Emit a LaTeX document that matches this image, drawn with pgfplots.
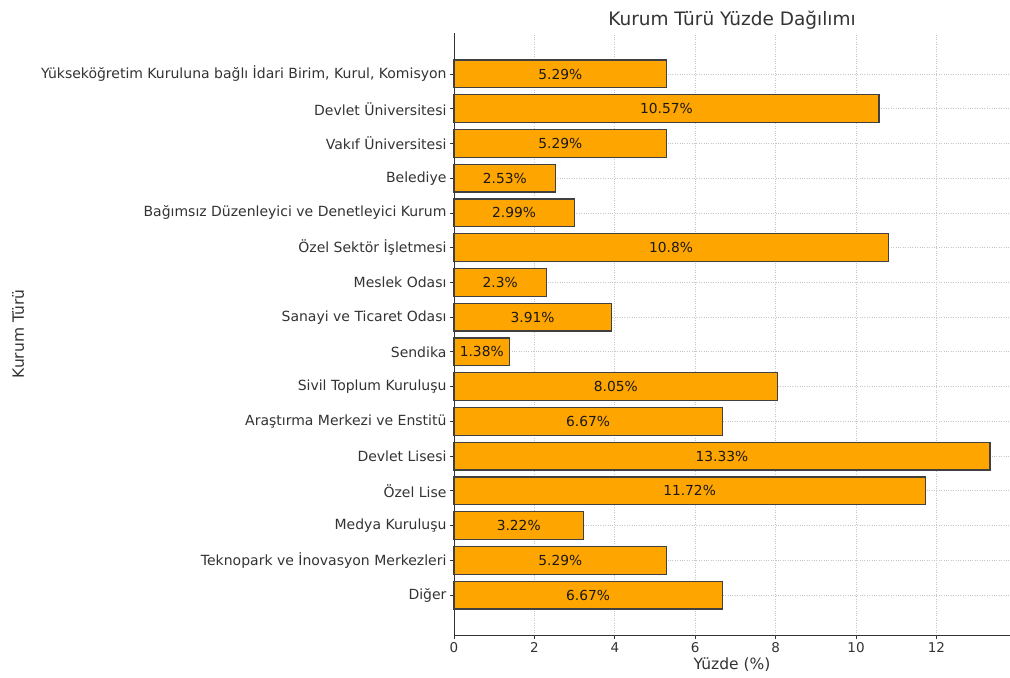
\documentclass[border=0pt]{standalone}
\usepackage{pgfplots}
\pgfplotsset{compat=1.18}
\usepackage{pgfplotstable}
\usepackage{fontspec}
\setmainfont{DejaVu Sans}
\definecolor{barorange}{HTML}{FFA500}
\definecolor{txt}{HTML}{333333}

\pgfplotstableread{
y v
15 5.29
14 10.57
13 5.29
12 2.53
11 2.99
10 10.8
9 2.3
8 3.91
7 1.38
6 8.05
5 6.67
4 13.33
3 11.72
2 3.22
1 5.29
0 6.67
}\datatable

\begin{document}
\begin{tikzpicture}
\begin{axis}[
  name=ax,
  scale only axis,
  width=556pt, height=602pt,
  xmin=0, xmax=13.83,
  ymin=-1.15, ymax=16.18,
  axis lines*=left,
  axis line style={black!80, line width=0.9pt},
  tick align=outside,
  major tick length=4pt,
  tick style={black!80, line width=0.8pt},
  xtick={0,2,4,6,8,10,12},
  ytick={0,...,15},
  yticklabels={Diğer, Teknopark ve İnovasyon Merkezleri, Medya Kuruluşu, Özel Lise, Devlet Lisesi, Araştırma Merkezi ve Enstitü, Sivil Toplum Kuruluşu, Sendika, Sanayi ve Ticaret Odası, Meslek Odası, Özel Sektör İşletmesi, Bağımsız Düzenleyici ve Denetleyici Kurum, Belediye, Vakıf Üniversitesi, Devlet Üniversitesi, {Yükseköğretim Kuruluna bağlı İdari Birim, Kurul, Komisyon}},
  yticklabel style={font=\fontsize{14}{16}\selectfont, text=txt},
  xticklabel style={font=\fontsize{13.5}{15}\selectfont, text=txt},
  /pgf/number format/assume math mode=true,
  grid=major,
  major grid style={dotted, black!22, line width=0.8pt},
  title={Kurum Türü Yüzde Dağılımı},
  title style={font=\fontsize{18.5}{20}\selectfont, text=txt, yshift=-6pt},
  xlabel={Yüzde (\%)},
  ylabel={Kurum Türü},
  xlabel style={font=\fontsize{15.5}{17}\selectfont, text=txt, yshift=2pt},
  ylabel style={font=\fontsize{15.5}{17}\selectfont, text=txt, yshift=10pt},
  clip=false,
]
\addplot[xbar, bar width=27.8pt, fill=barorange, draw=black!75, line width=1.2pt]
  table[x=v, y=y] {\datatable};
\addplot[only marks, mark=none,
  point meta=explicit symbolic,
  nodes near coords={\pgfplotspointmeta\%},
  nodes near coords style={anchor=center, font=\fontsize{13.8}{15}\selectfont, text=black!90}]
  table[x expr=\thisrow{v}/2, y=y, meta=v] {\datatable};
\end{axis}
\pgfresetboundingbox
\path ([shift={(-454pt,-42pt)}]ax.south west) rectangle ([shift={(0pt,33pt)}]ax.north east);
\end{tikzpicture}
\end{document}
